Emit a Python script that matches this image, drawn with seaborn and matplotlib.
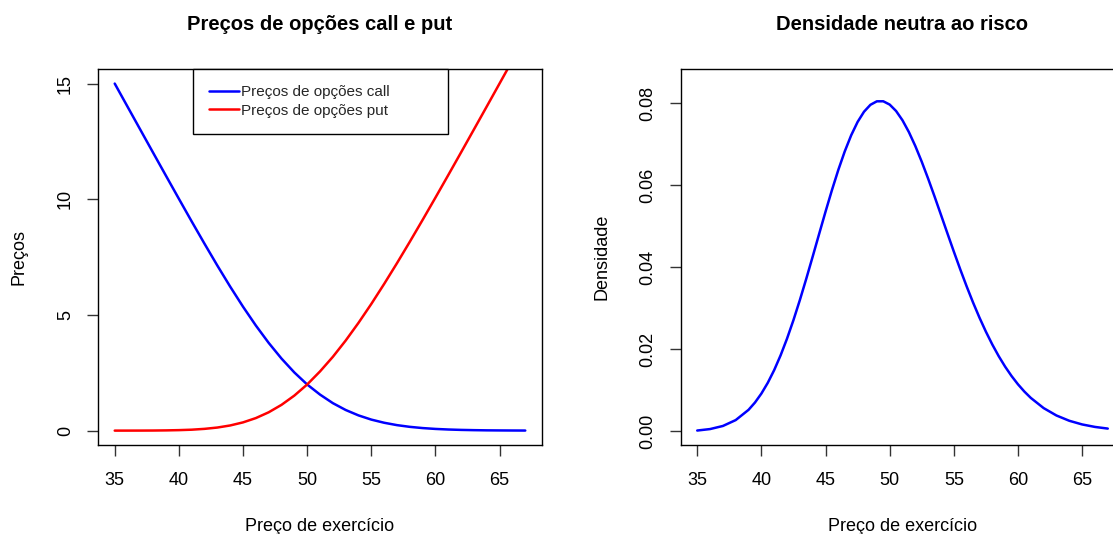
import matplotlib
matplotlib.use("Agg")
import matplotlib.pyplot as plt
import seaborn as sns
import pandas as pd

# ---- data ----
strikes = [35, 36, 37, 38, 39, 40, 41, 42, 43, 44, 45, 46, 47, 48, 49, 50,
           51, 52, 53, 54, 55, 56, 57, 58, 59, 60, 61, 62, 63, 64, 65, 66, 67]
call_prices = [15.000, 14.000, 13.002, 12.004, 11.010, 10.021, 9.040, 8.076,
               7.133, 6.223, 5.356, 4.542, 3.792, 3.114, 2.514, 1.994,
               1.558, 1.188, 0.892, 0.658, 0.476, 0.340, 0.237, 0.163,
               0.110, 0.073, 0.048, 0.031, 0.020, 0.012, 0.008, 0.005, 0.003]
put_prices = [0.000, 0.0005, 0.0015, 0.004, 0.010, 0.021, 0.040, 0.076,
              0.133, 0.223, 0.356, 0.542, 0.792, 1.114, 1.514, 1.994,
              2.558, 3.188, 3.892, 4.658, 5.476, 6.340, 7.237, 8.163,
              9.110, 10.073, 11.048, 12.031, 13.020, 14.012, 15.008, 16.005, 17.003]

density_strikes = [35, 36, 37, 38, 39, 39.5, 40, 40.5, 41, 41.5, 42, 42.5,
                   43, 43.5, 44, 44.5, 45, 45.5, 46, 46.5, 47, 47.5, 48, 48.5,
                   49, 49.5, 50, 50.5, 51, 51.5, 52, 52.5, 53, 53.5, 54, 54.5,
                   55, 55.5, 56, 56.5, 57, 57.5, 58, 58.5, 59, 59.5, 60, 60.5,
                   61, 62, 63, 64, 65, 66, 67]
density = [0.000235, 0.000592, 0.001345, 0.002784, 0.005281, 0.007054,
           0.009240, 0.011871, 0.014978, 0.018574, 0.022639, 0.027147,
           0.032039, 0.037240, 0.042642, 0.048130, 0.053577, 0.058843,
           0.063790, 0.068285, 0.072205, 0.075453, 0.077947, 0.079633,
           0.080481, 0.080492, 0.079689, 0.078121, 0.075854, 0.072974,
           0.069574, 0.065754, 0.061618, 0.057271, 0.052800, 0.048306,
           0.043859, 0.039530, 0.035374, 0.031436, 0.027749, 0.024333,
           0.021200, 0.018358, 0.015801, 0.013522, 0.011501, 0.009730,
           0.008188, 0.005706, 0.003900, 0.002614, 0.001721, 0.001114, 0.000709]

x_ticks = [35, 40, 45, 50, 55, 60, 65]
price_ticks = [0, 5, 10, 15]
density_ticks = [0.00, 0.02, 0.04, 0.06, 0.08]
density_tick_labels = ["0.00", "0.02", "0.04", "0.06", "0.08"]

title_left = "Preços de opções call e put"
title_right = "Densidade neutra ao risco"
xlabel = "Preço de exercício"
ylabel_left = "Preços"
ylabel_right = "Densidade"
label_call = "Preços de opções call"
label_put = "Preços de opções put"

df = pd.DataFrame({"strike": strikes, "call": call_prices, "put": put_prices})
df_dens = pd.DataFrame({"strike": density_strikes, "density": density})

sns.set_theme(style="white")
plt.rcParams["font.family"] = ["Liberation Sans", "DejaVu Sans"]

fig = plt.figure(figsize=(11.13, 5.34), dpi=100)
W, H = 1113.0, 534.0
ax_w = 443.4 / W
ax_h = 375.5 / H
ax_y = (H - 444.5) / H
ax1 = fig.add_axes([98.3 / W, ax_y, ax_w, ax_h])
ax2 = fig.add_axes([680.8 / W, ax_y, ax_w, ax_h])

LW = 1.8
sns.lineplot(data=df, x="strike", y="call", ax=ax1, color="#0000FF",
             linewidth=LW, label=label_call)
sns.lineplot(data=df, x="strike", y="put", ax=ax1, color="#FF0000",
             linewidth=LW, label=label_put)
sns.lineplot(data=df_dens, x="strike", y="density", ax=ax2, color="#0000FF",
             linewidth=LW, legend=False)

ax1.set_xlim(33.72, 68.28)
ax1.set_ylim(-0.6, 15.63)
ax2.set_xlim(33.72, 68.28)
ax2.set_ylim(-0.00317, 0.08836)

FS = 13
for ax in (ax1, ax2):
    for s in ax.spines.values():
        s.set_visible(True)
        s.set_color("black")
        s.set_linewidth(1.0)
    ax.set_xticks(x_ticks)
    ax.tick_params(axis="both", which="major", bottom=True, left=True,
                   direction="out", length=8, width=1, color="#333333",
                   labelsize=FS, labelcolor="black")
    ax.tick_params(axis="x", pad=11.5)
    ax.tick_params(axis="y", pad=9.5)
    ax.set_xlabel(xlabel, fontsize=FS, color="black")
    ax.xaxis.set_label_coords(0.5, -0.196)
    ax.grid(False)

ax1.set_yticks(price_ticks)
ax1.set_yticklabels([str(t) for t in price_ticks], rotation=90, va="center")
ax2.set_yticks(density_ticks)
ax2.set_yticklabels(density_tick_labels, rotation=90, va="center")

ax1.set_ylabel(ylabel_left, fontsize=FS, color="black")
ax2.set_ylabel(ylabel_right, fontsize=FS, color="black")
ax1.yaxis.set_label_coords(-0.159, 0.5)
ax2.yaxis.set_label_coords(-0.159, 0.5)

ax1.set_title(title_left, fontsize=14.5, fontweight="bold", pad=28, color="black")
ax2.set_title(title_right, fontsize=14.5, fontweight="bold", pad=28, color="black")

leg = ax1.legend(loc="upper left", bbox_to_anchor=(0.2129, 0.0, 0.5751, 1.0),
                 mode="expand", borderaxespad=0, fancybox=False, frameon=True,
                 fontsize=11, handlelength=2.0, handletextpad=0.1,
                 borderpad=1.05, labelspacing=0.3)
leg.get_frame().set_edgecolor("black")
leg.get_frame().set_linewidth(1.0)
leg.get_frame().set_alpha(1)

fig.savefig("out.png", dpi=100)
